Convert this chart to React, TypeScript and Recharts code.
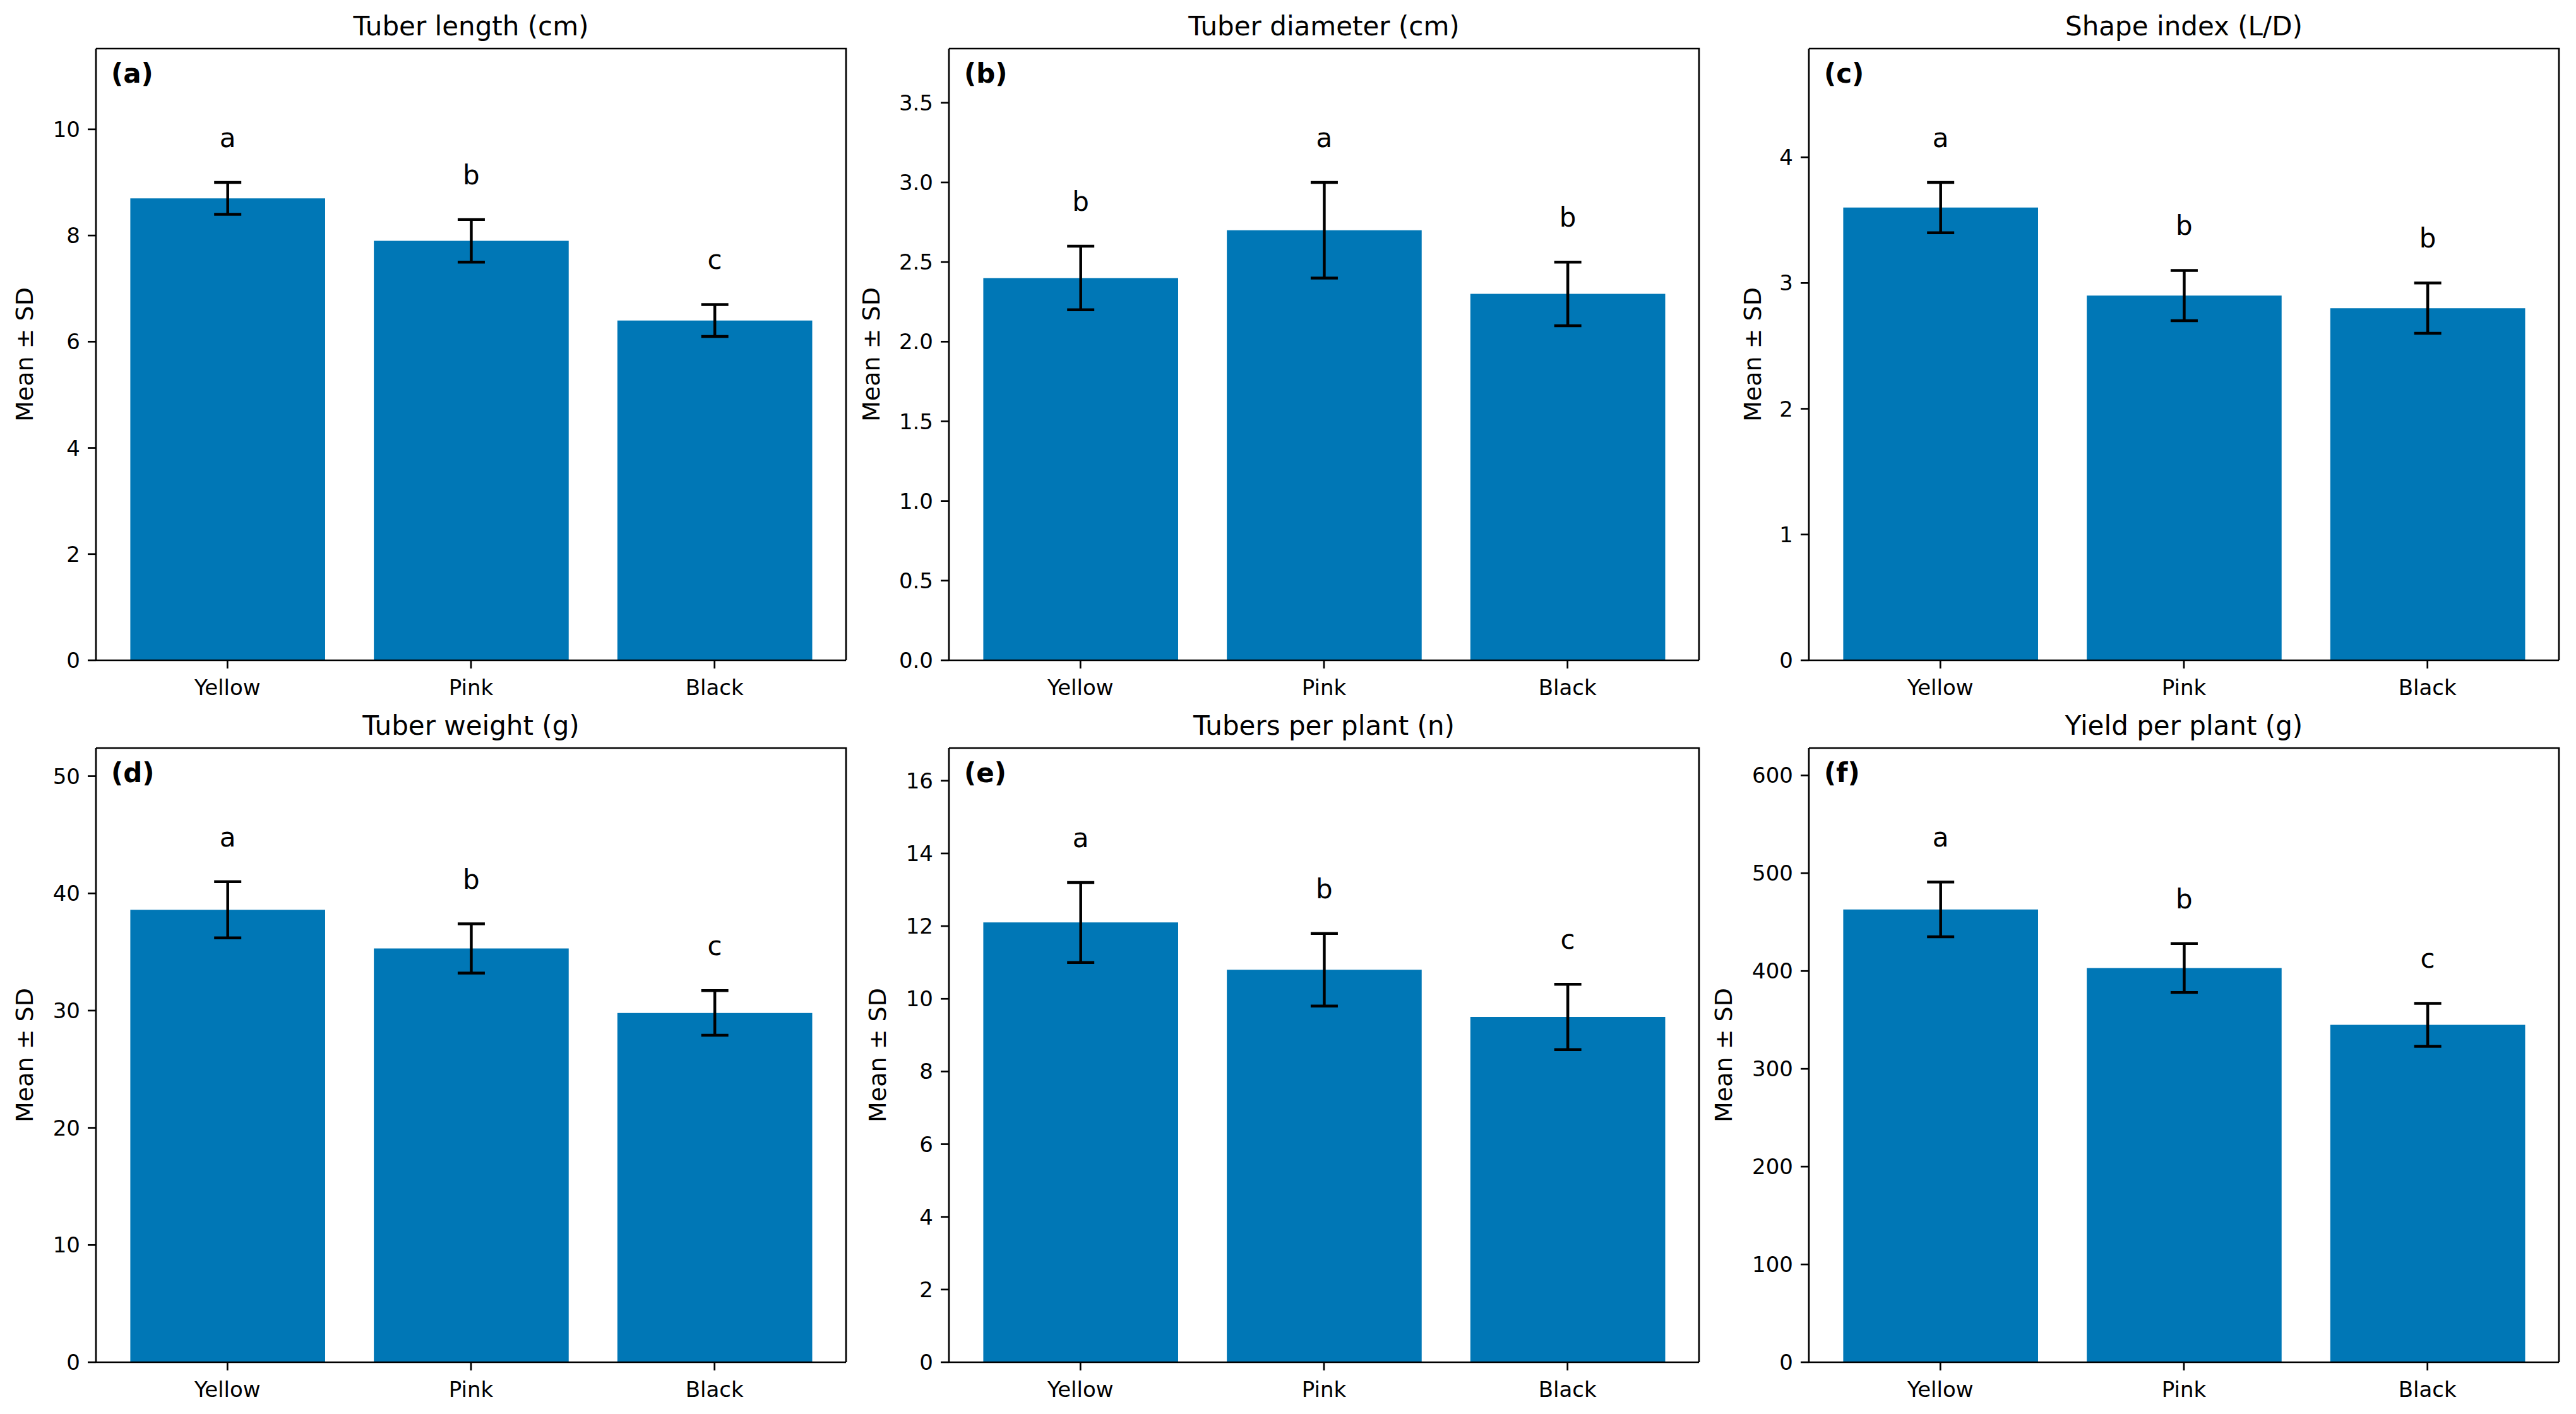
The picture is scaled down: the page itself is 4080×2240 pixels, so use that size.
import { BarChart, Bar, XAxis, YAxis, ErrorBar, LabelList } from "recharts"

const categories = ["Yellow", "Pink", "Black"]

const lengthMean = [8.7, 7.9, 6.4]
const lengthSd = [0.3, 0.4, 0.3]
const lengthLetters = ["a", "b", "c"]
const lengthTicks = [0, 2, 4, 6, 8, 10]

const diameterMean = [2.4, 2.7, 2.3]
const diameterSd = [0.2, 0.3, 0.2]
const diameterLetters = ["b", "a", "b"]
const diameterTicks = [0, 0.5, 1, 1.5, 2, 2.5, 3, 3.5]

const shapeMean = [3.6, 2.9, 2.8]
const shapeSd = [0.2, 0.2, 0.2]
const shapeLetters = ["a", "b", "b"]
const shapeTicks = [0, 1, 2, 3, 4]

const weightMean = [38.6, 35.3, 29.8]
const weightSd = [2.4, 2.1, 1.9]
const weightLetters = ["a", "b", "c"]
const weightTicks = [0, 10, 20, 30, 40, 50]

const tubersMean = [12.1, 10.8, 9.5]
const tubersSd = [1.1, 1.0, 0.9]
const tubersLetters = ["a", "b", "c"]
const tubersTicks = [0, 2, 4, 6, 8, 10, 12, 14, 16]

const yieldMean = [463, 403, 345]
const yieldSd = [28, 25, 22]
const yieldLetters = ["a", "b", "c"]
const yieldTicks = [0, 100, 200, 300, 400, 500, 600]

const FONT = "DejaVu Sans, Verdana, sans-serif"
const BAR_COLOR = "#0077b6"
const AXIS_W = 2.7

// plot-area geometry (px)
const COL_X = [152, 1503, 2865]
const ROW_Y = [77, 1185]
const ROW_H = [969, 973]
const PLOT_W = 1188
const Y_AXIS_W = 140
const X_AXIS_H = 80
const M_TOP = 20
const M_RIGHT = 20

const panels = [
  { title: "Tuber length (cm)", tag: "(a)", mean: lengthMean, sd: lengthSd, letters: lengthLetters, ticks: lengthTicks, yMax: 11.52, labelGap: 100, dec: 0 },
  { title: "Tuber diameter (cm)", tag: "(b)", mean: diameterMean, sd: diameterSd, letters: diameterLetters, ticks: diameterTicks, yMax: 3.84, labelGap: 110, dec: 1 },
  { title: "Shape index (L/D)", tag: "(c)", mean: shapeMean, sd: shapeSd, letters: shapeLetters, ticks: shapeTicks, yMax: 4.864, labelGap: 76, dec: 0 },
  { title: "Tuber weight (g)", tag: "(d)", mean: weightMean, sd: weightSd, letters: weightLetters, ticks: weightTicks, yMax: 52.4, labelGap: 100, dec: 0 },
  { title: "Tubers per plant (n)", tag: "(e)", mean: tubersMean, sd: tubersSd, letters: tubersLetters, ticks: tubersTicks, yMax: 16.9, labelGap: 100, dec: 0 },
  { title: "Yield per plant (g)", tag: "(f)", mean: yieldMean, sd: yieldSd, letters: yieldLetters, ticks: yieldTicks, yMax: 628, labelGap: 122, dec: 0 },
]

// matplotlib-like x limits: bands of ~385.7px, 15.4px outer padding
const X_PAD = 15.4
const BAR_SIZE = 308.6

function Panel({ p, col, row }: any) {
  const plotH = ROW_H[row]
  const data = categories.map((c, i) => ({ name: c, mean: p.mean[i], sd: p.sd[i], letter: p.letters[i] }))

  const renderLetter = (props: any) => {
    const { x, y, width, height, index, value } = props
    const pxPerUnit = Number(height) / p.mean[index]
    const top = Number(y) - p.sd[index] * pxPerUnit
    return (
      <text x={Number(x) + Number(width) / 2} y={top - 56} textAnchor="middle" fontSize={42} fontFamily={FONT} fill="#000">
        {value}
      </text>
    )
  }

  const tickStyle = { fontSize: 34, fill: "#000", fontFamily: FONT }
  const line = { stroke: "#000", strokeWidth: AXIS_W }

  return (
    <div style={{ position: "absolute", left: COL_X[col] - Y_AXIS_W, top: ROW_Y[row] - M_TOP }}>
      <BarChart
        width={Y_AXIS_W + PLOT_W + M_RIGHT}
        height={M_TOP + plotH + X_AXIS_H}
        data={data}
        margin={{ top: M_TOP, right: M_RIGHT, left: 0, bottom: 0 }}
      >
        <XAxis
          dataKey="name"
          height={X_AXIS_H}
          padding={{ left: X_PAD, right: X_PAD }}
          axisLine={line}
          tickLine={line}
          tickSize={13}
          tickMargin={18}
          tick={tickStyle}
          interval={0}
        />
        <YAxis
          width={Y_AXIS_W}
          domain={[0, p.yMax]}
          ticks={p.ticks}
          allowDataOverflow
          axisLine={line}
          tickLine={line}
          tickSize={13}
          tickMargin={12}
          tick={tickStyle}
          tickFormatter={(v: number) => v.toFixed(p.dec)}
          interval={0}
        />
        <Bar dataKey="mean" fill={BAR_COLOR} barSize={BAR_SIZE} isAnimationActive={false}>
          <ErrorBar dataKey="sd" width={21.5} stroke="#000" strokeWidth={4.5} isAnimationActive={false} />
          <LabelList dataKey="letter" content={renderLetter} />
        </Bar>
      </BarChart>
    </div>
  )
}

function Overlay() {
  return (
    <svg width={4080} height={2240} style={{ position: "absolute", left: 0, top: 0, pointerEvents: "none" }}>
      {panels.map((p, i) => {
        const col = i % 3
        const row = Math.floor(i / 3)
        const left = COL_X[col]
        const top = ROW_Y[row]
        const h = ROW_H[row]
        const midY = top + h / 2
        const lx = left - p.labelGap
        return (
          <g key={i} fontFamily={FONT} fill="#000">
            {/* top and right spines */}
            <path d={`M${left},${top} H${left + PLOT_W} V${top + h}`} fill="none" stroke="#000" strokeWidth={AXIS_W} />
            <text x={left + PLOT_W / 2} y={top - 21} textAnchor="middle" fontSize={42}>
              {p.title}
            </text>
            <text x={left + 24} y={top + 54} fontSize={42} fontWeight="bold">
              {p.tag}
            </text>
            <text x={lx} y={midY} transform={`rotate(-90 ${lx} ${midY})`} textAnchor="middle" fontSize={38}>
              Mean ± SD
            </text>
          </g>
        )
      })}
    </svg>
  )
}

export default function App() {
  return (
    <div style={{ position: "absolute", left: 0, top: 0, width: 4080, height: 2240, background: "#fff", overflow: "hidden" }}>
      {panels.map((p, i) => (
        <Panel key={i} p={p} col={i % 3} row={Math.floor(i / 3)} />
      ))}
      <Overlay />
    </div>
  )
}
